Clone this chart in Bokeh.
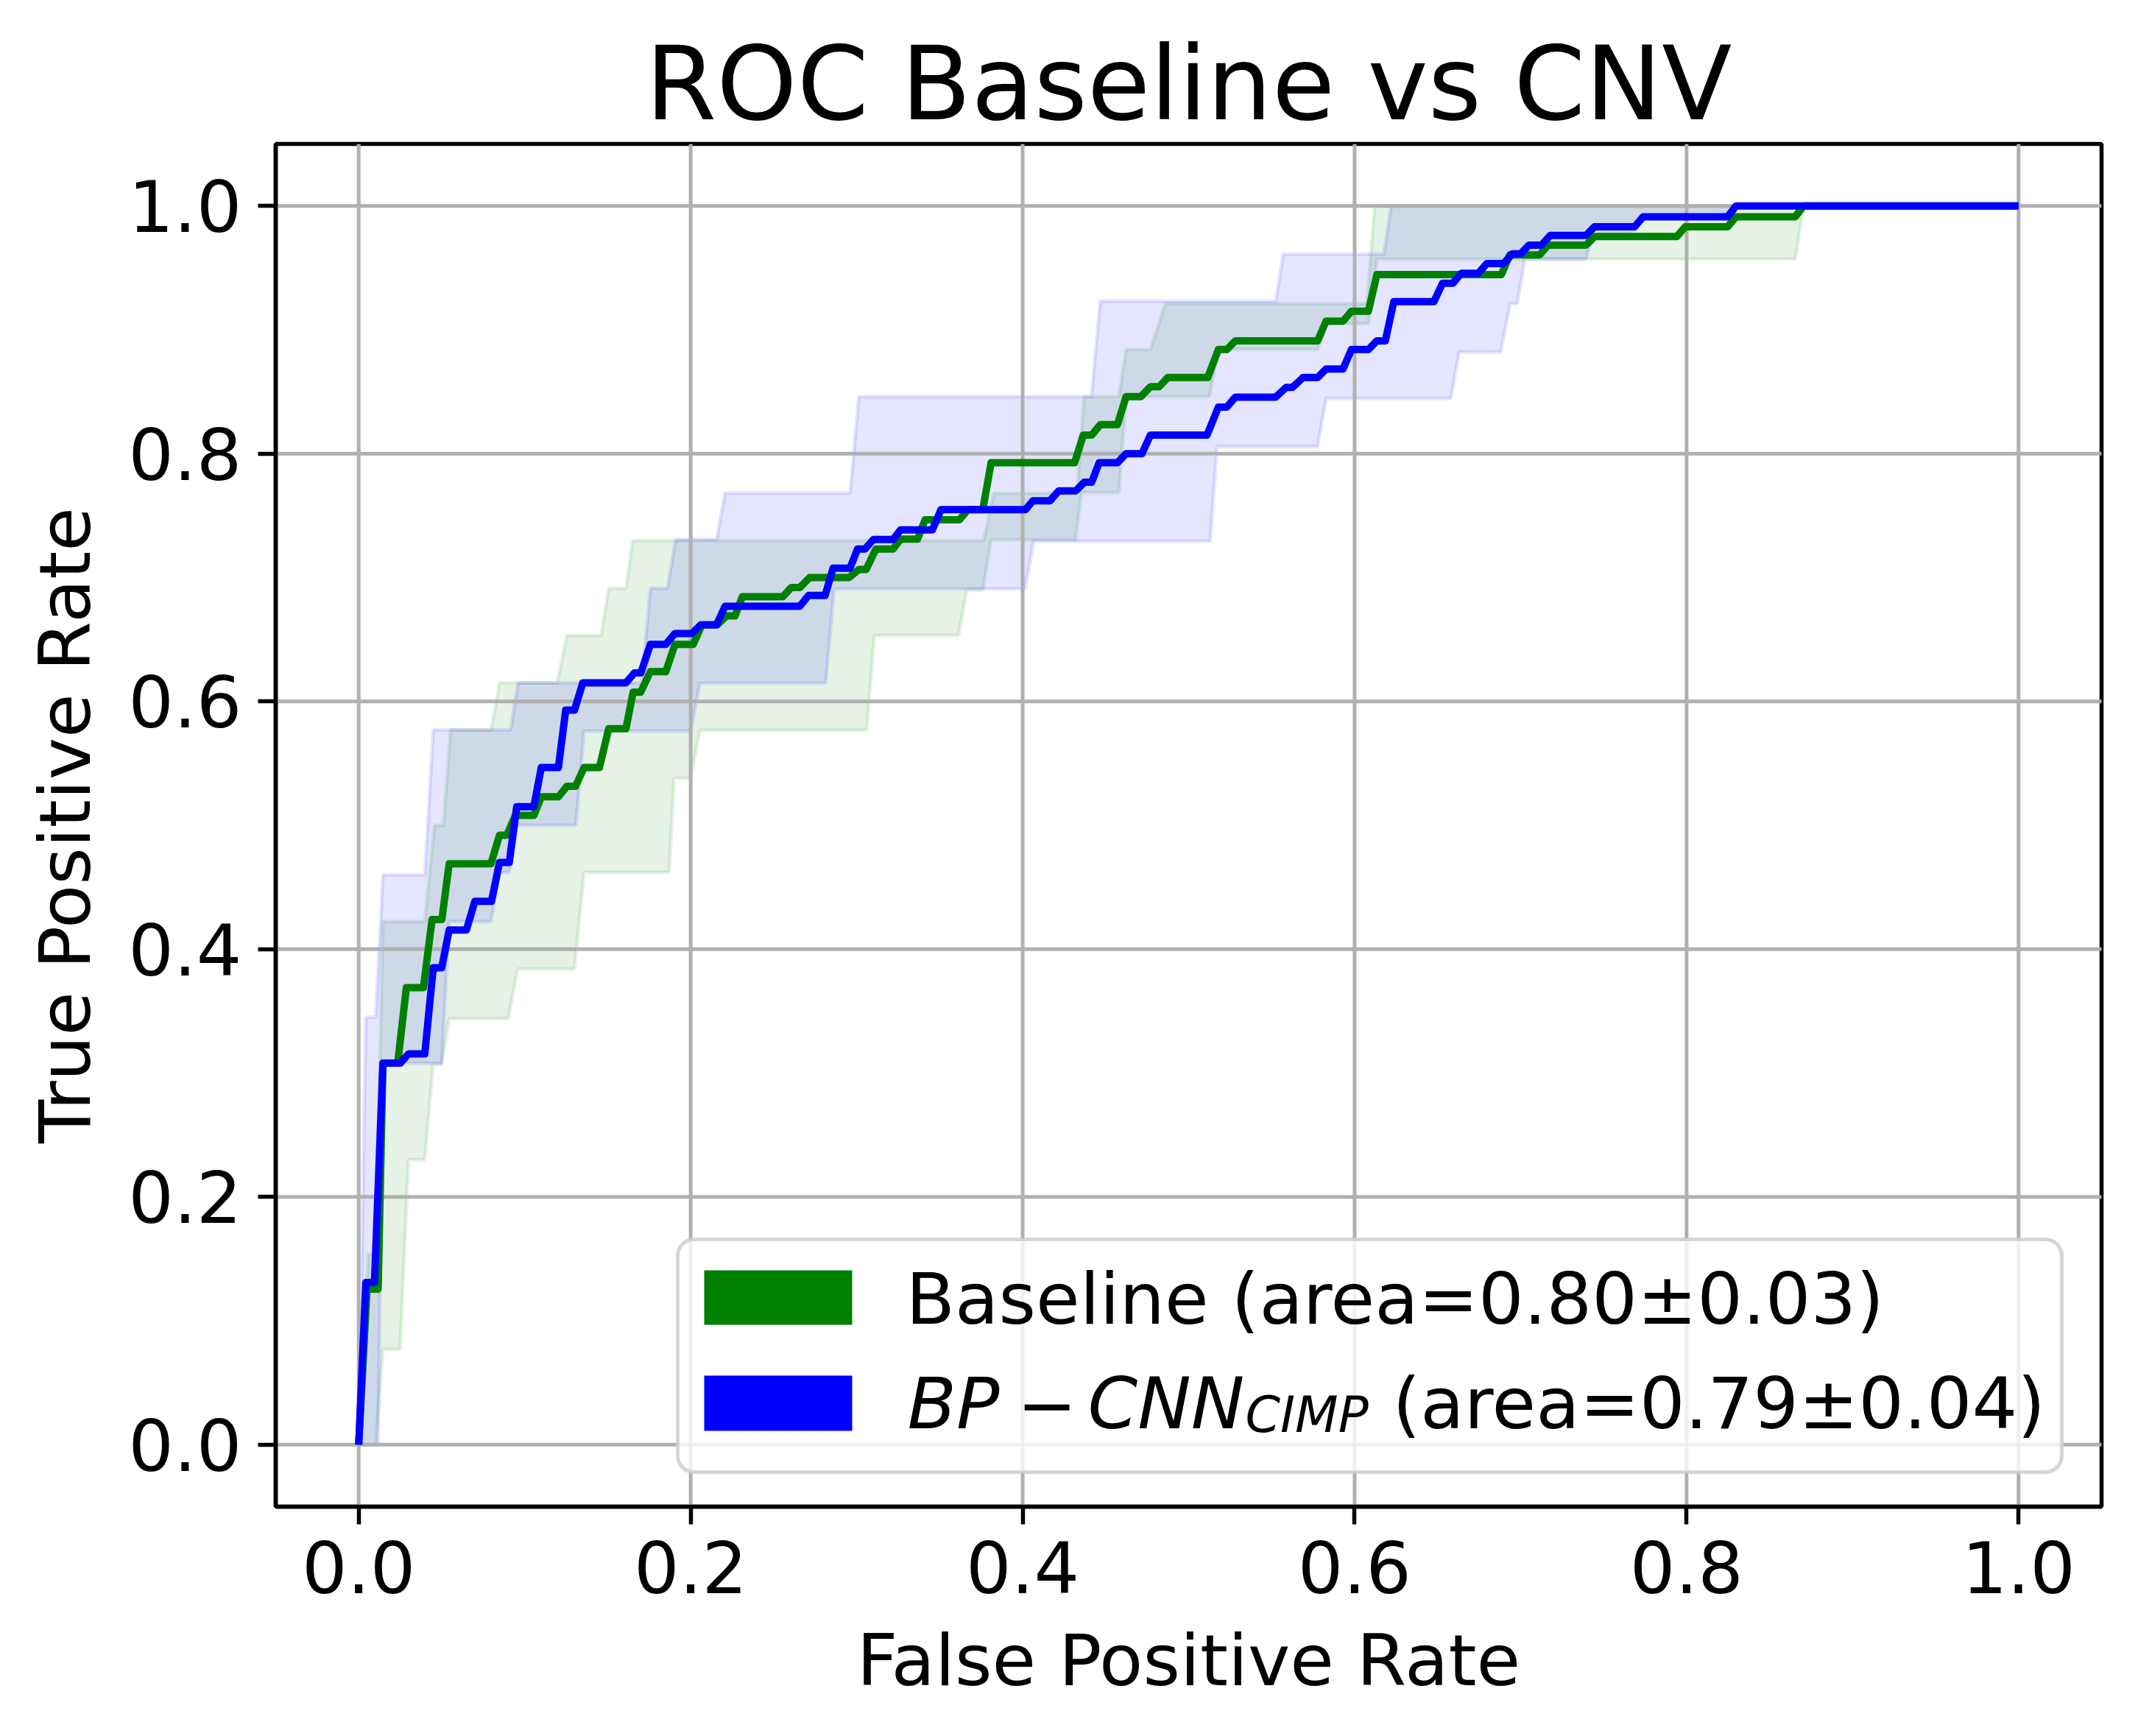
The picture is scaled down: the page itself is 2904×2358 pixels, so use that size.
from bokeh.plotting import figure
from bokeh.models import Range1d, FixedTicker, BoxAnnotation, Label
from bokeh.embed import file_html
from bokeh.resources import INLINE

# ---------------- data ----------------
tick_values = [0.0, 0.2, 0.4, 0.6, 0.8, 1.0]
tick_labels = ["0.0", "0.2", "0.4", "0.6", "0.8", "1.0"]

# Baseline mean ROC
green_fpr = [0, 0.005, 0.0117, 0.0146, 0.0235, 0.0287, 0.039, 0.0442, 0.0501, 0.0545,
             0.0797, 0.0848, 0.0892, 0.0944, 0.1055, 0.110, 0.1203, 0.1254, 0.1306, 0.1358,
             0.145, 0.1506, 0.161, 0.1653, 0.1698, 0.1757, 0.185, 0.1905, 0.2015, 0.2068,
             0.216, 0.2215, 0.2267, 0.2311, 0.2555, 0.2606, 0.2658, 0.2717, 0.2954, 0.3013,
             0.3057, 0.3116, 0.322, 0.3264, 0.3367, 0.3412, 0.3619, 0.3671, 0.376, 0.381,
             0.4313, 0.4365, 0.4416, 0.4468, 0.4571, 0.4623, 0.4712, 0.477, 0.4822, 0.4874,
             0.5115, 0.5179, 0.523, 0.5281, 0.5777, 0.5828, 0.593, 0.5981, 0.6083, 0.6134,
             0.6884, 0.6935, 0.7114, 0.7165, 0.7394, 0.7445, 0.7941, 0.7992, 0.8247, 0.8298,
             0.8654, 0.8705, 1.0]
green_tpr = [0, 0.1256, 0.1256, 0.308, 0.308, 0.369, 0.369, 0.424, 0.424, 0.469,
             0.469, 0.492, 0.492, 0.508, 0.508, 0.523, 0.523, 0.5315, 0.5315, 0.5466,
             0.5466, 0.578, 0.578, 0.6074, 0.6074, 0.624, 0.624, 0.646, 0.646, 0.6618,
             0.6618, 0.669, 0.669, 0.6845, 0.6845, 0.692, 0.692, 0.700, 0.700, 0.7065,
             0.7065, 0.723, 0.723, 0.731, 0.731, 0.7466, 0.7466, 0.7548, 0.7548, 0.7927,
             0.7927, 0.815, 0.815, 0.8234, 0.8234, 0.846, 0.846, 0.854, 0.854, 0.8614,
             0.8614, 0.884, 0.884, 0.891, 0.891, 0.9069, 0.9069, 0.915, 0.915, 0.9445,
             0.9445, 0.9604, 0.9604, 0.9683, 0.9683, 0.9752, 0.9752, 0.9831, 0.9831, 0.9911,
             0.9911, 1.0, 1.0]

# BP-CNN_CIMP mean ROC
blue_fpr = [0, 0.0043, 0.0095, 0.0146, 0.025, 0.030, 0.0398, 0.0449, 0.050, 0.0545,
            0.0649, 0.070, 0.080, 0.0848, 0.0907, 0.0952, 0.1055, 0.110, 0.1203, 0.1247,
            0.130, 0.1350, 0.161, 0.1661, 0.170, 0.1757, 0.185, 0.1905, 0.2008, 0.206,
            0.2156, 0.2207, 0.2658, 0.271, 0.281, 0.2858, 0.296, 0.3005, 0.305, 0.3101,
            0.322, 0.3264, 0.3456, 0.3508, 0.4017, 0.4062, 0.4165, 0.4217, 0.432, 0.4372,
            0.4416, 0.4461, 0.4571, 0.4623, 0.4719, 0.477, 0.5111, 0.5179, 0.523, 0.5281,
            0.5523, 0.5587, 0.5625, 0.5689, 0.5777, 0.5828, 0.593, 0.5981, 0.6083, 0.6134,
            0.6185, 0.6236, 0.6478, 0.653, 0.6592, 0.6643, 0.6745, 0.6796, 0.6898, 0.6949,
            0.700, 0.7050, 0.7126, 0.7178, 0.7394, 0.7445, 0.7687, 0.7738, 0.8247, 0.8298,
            1.0]
blue_tpr = [0, 0.131, 0.131, 0.308, 0.308, 0.3155, 0.3155, 0.385, 0.385, 0.4155,
            0.4155, 0.4387, 0.4387, 0.470, 0.470, 0.515, 0.515, 0.5466, 0.5466, 0.593,
            0.593, 0.615, 0.615, 0.623, 0.623, 0.646, 0.646, 0.6548, 0.6548, 0.6618,
            0.6618, 0.6768, 0.6768, 0.6855, 0.6855, 0.7076, 0.7076, 0.723, 0.723, 0.7307,
            0.7307, 0.7384, 0.7384, 0.7548, 0.7548, 0.762, 0.762, 0.770, 0.770, 0.777,
            0.777, 0.7927, 0.7927, 0.800, 0.800, 0.815, 0.815, 0.8375, 0.8375, 0.8455,
            0.8455, 0.8534, 0.8534, 0.8614, 0.8614, 0.8683, 0.8683, 0.884, 0.884, 0.891,
            0.891, 0.9227, 0.9227, 0.9376, 0.9376, 0.9455, 0.9455, 0.9534, 0.9534, 0.9613,
            0.9613, 0.9683, 0.9683, 0.9762, 0.9762, 0.9831, 0.9831, 0.9911, 0.9911, 1.0,
            1.0]

# Baseline +/- std band
green_up_fpr = [0, 0.0058, 0.0102, 0.0146, 0.0398, 0.0456, 0.051, 0.0553, 0.0797, 0.0848,
                0.1195, 0.1254, 0.146, 0.1506, 0.161, 0.165, 0.3765, 0.3826, 0.4327, 0.437,
                0.458, 0.4623, 0.477, 0.486, 0.6075, 0.612, 1.0]
green_up_tpr = [0, 0.154, 0.154, 0.4223, 0.4223, 0.50, 0.50, 0.577, 0.577, 0.615,
                0.615, 0.653, 0.653, 0.6914, 0.6914, 0.7298, 0.7298, 0.768, 0.768, 0.846,
                0.846, 0.884, 0.884, 0.921, 0.921, 1.0, 1.0]
green_lo_fpr = [0, 0.0102, 0.0146, 0.025, 0.030, 0.0398, 0.0449, 0.050, 0.0545, 0.090,
                0.0958, 0.130, 0.1358, 0.187, 0.190, 0.200, 0.2055, 0.306, 0.3107, 0.3614,
                0.3663, 0.376, 0.381, 0.4318, 0.4355, 0.458, 0.4623, 0.5125, 0.5179, 0.5777,
                0.5828, 0.6083, 0.6134, 0.8654, 0.8705, 1.0]
green_lo_tpr = [0, 0, 0.077, 0.077, 0.23, 0.23, 0.307, 0.307, 0.344, 0.344,
                0.384, 0.384, 0.462, 0.462, 0.538, 0.538, 0.5766, 0.5766, 0.6533, 0.6533,
                0.690, 0.690, 0.7304, 0.7304, 0.7686, 0.7686, 0.846, 0.846, 0.884, 0.884,
                0.905, 0.905, 0.957, 0.957, 1.0, 1.0]

# BP-CNN_CIMP +/- std band
blue_up_fpr = [0, 0.0043, 0.0102, 0.0146, 0.0398, 0.0449, 0.0915, 0.096, 0.1706, 0.1757,
               0.186, 0.191, 0.2156, 0.2207, 0.296, 0.3013, 0.4414, 0.4467, 0.5525, 0.557,
               0.6177, 0.622, 1.0]
blue_up_tpr = [0, 0.345, 0.345, 0.46, 0.46, 0.577, 0.577, 0.615, 0.615, 0.6914,
               0.6914, 0.7307, 0.7307, 0.768, 0.768, 0.846, 0.846, 0.923, 0.923, 0.961,
               0.961, 1.0, 1.0]
blue_lo_fpr = [0, 0.0117, 0.0146, 0.050, 0.0545, 0.0797, 0.0848, 0.0907, 0.0952, 0.1309,
               0.1357, 0.200, 0.2055, 0.2814, 0.2863, 0.4015, 0.4065, 0.5130, 0.5171, 0.5777,
               0.5828, 0.658, 0.663, 0.688, 0.6937, 0.698, 0.7025, 0.7394, 0.7445, 0.7687,
               0.7738, 0.8247, 0.8298, 1.0]
blue_lo_tpr = [0, 0, 0.308, 0.308, 0.4223, 0.4223, 0.462, 0.462, 0.50, 0.50,
               0.576, 0.576, 0.6147, 0.6147, 0.6909, 0.6909, 0.7294, 0.7294, 0.8057, 0.8057,
               0.8445, 0.8445, 0.882, 0.882, 0.921, 0.921, 0.957, 0.957, 0.98, 0.98,
               0.99, 0.99, 1.0, 1.0]

title_text = "ROC Baseline vs CNV"
x_label = "False Positive Rate"
y_label = "True Positive Rate"
legend_green = "Baseline (area=0.80\u00b10.03)"
legend_blue_parts = ["BP", "\u2212", "CNN", "CIMP", "(area=0.79\u00b10.04)"]

# ---------------- layout ----------------
FONT = "DejaVu Sans"
FW, FH = 2480, 1851
X0, X1 = -0.05, 1.05
Y0, Y1 = -0.05, 1.05
LW_AXIS = 5.5


def px_x(px):
    return X0 + px * (X1 - X0) / FW


def px_y(py):
    return Y1 - py * (Y1 - Y0) / FH


p = figure(frame_width=FW, frame_height=FH,
           x_range=Range1d(X0, X1), y_range=Range1d(Y0, Y1),
           output_backend="svg", toolbar_location=None,
           min_border_left=374, min_border_right=34,
           min_border_top=195, min_border_bottom=290,
           title=title_text, background_fill_color="white",
           border_fill_color="white")

p.xgrid.visible = False
p.ygrid.visible = False

# bands
gx = green_up_fpr + green_lo_fpr[::-1]
gy = green_up_tpr + green_lo_tpr[::-1]
p.patch(gx, gy, fill_color="green", fill_alpha=0.1,
        line_color="green", line_alpha=0.1, line_width=5)
bx = blue_up_fpr + blue_lo_fpr[::-1]
by = blue_up_tpr + blue_lo_tpr[::-1]
p.patch(bx, by, fill_color="blue", fill_alpha=0.1,
        line_color="blue", line_alpha=0.1, line_width=5)

# grid (above bands, below lines as in matplotlib)
p.multi_line(xs=[[t, t] for t in tick_values], ys=[[Y0, Y1] for _ in tick_values],
             line_color="#b0b0b0", line_width=5)
p.multi_line(xs=[[X0, X1] for _ in tick_values], ys=[[t, t] for t in tick_values],
             line_color="#b0b0b0", line_width=5)

# mean curves
p.line(green_fpr, green_tpr, line_color="green", line_width=10, line_join="round")
p.line(blue_fpr, blue_tpr, line_color="blue", line_width=10, line_join="round")

# axes
p.xaxis.axis_label = x_label
p.yaxis.axis_label = y_label
for ax in (p.xaxis[0], p.yaxis[0]):
    ax.ticker = FixedTicker(ticks=tick_values)
    ax.major_label_overrides = {v: s for v, s in zip(tick_values, tick_labels)}
    ax.major_label_text_font = FONT
    ax.major_label_text_font_size = "97px"
    ax.major_label_text_color = "black"
    ax.major_tick_out = 24
    ax.major_tick_in = 0
    ax.minor_tick_out = 0
    ax.minor_tick_in = 0
    ax.major_tick_line_width = LW_AXIS
    ax.axis_line_width = LW_AXIS
    ax.major_label_standoff = 22
    ax.axis_label_text_font = FONT
    ax.axis_label_text_font_size = "97px"
    ax.axis_label_text_font_style = "normal"
    ax.axis_label_text_color = "black"
p.xaxis[0].axis_label_standoff = 32
p.yaxis[0].axis_label_standoff = 26

p.outline_line_color = "black"
p.outline_line_width = LW_AXIS
p.outline_line_alpha = 1.0

p.title.text_font = FONT
p.title.text_font_size = "139px"
p.title.text_font_style = "normal"
p.title.text_color = "black"
p.title.align = "center"
p.title.standoff = 2

# legend (manual, matplotlib-like)
p.add_layout(BoxAnnotation(left=px_x(546), right=px_x(2426), top=px_y(1488), bottom=px_y(1804),
                           fill_color="white", fill_alpha=0.8, line_color="#cccccc",
                           line_alpha=0.8, line_width=5, border_radius=22))
p.add_layout(BoxAnnotation(left=px_x(582), right=px_x(783), top=px_y(1530), bottom=px_y(1604),
                           fill_color="green", fill_alpha=1.0, line_color=None))
p.add_layout(BoxAnnotation(left=px_x(582), right=px_x(783), top=px_y(1673), bottom=px_y(1748),
                           fill_color="blue", fill_alpha=1.0, line_color=None))

TEXT_SHIFT = 32
p.add_layout(Label(x=px_x(856), y=px_y(1601 - TEXT_SHIFT), text=legend_green, text_font=FONT,
                   text_font_size="97px", text_baseline="alphabetic", text_color="black"))
piece_x = [858, 1007, 1103, 1317, 1517]
piece_size = ["97px", "97px", "97px", "68px", "97px"]
piece_style = ["italic", "normal", "italic", "italic", "normal"]
piece_drop = [0, 0, 0, 15, 0]
for txt, xx, sz, st, dr in zip(legend_blue_parts, piece_x, piece_size, piece_style, piece_drop):
    p.add_layout(Label(x=px_x(xx), y=px_y(1743 - TEXT_SHIFT + dr), text=txt, text_font=FONT,
                       text_font_size=sz, text_font_style=st,
                       text_baseline="alphabetic", text_color="black"))

open("out.html", "w").write(file_html(p, INLINE))
